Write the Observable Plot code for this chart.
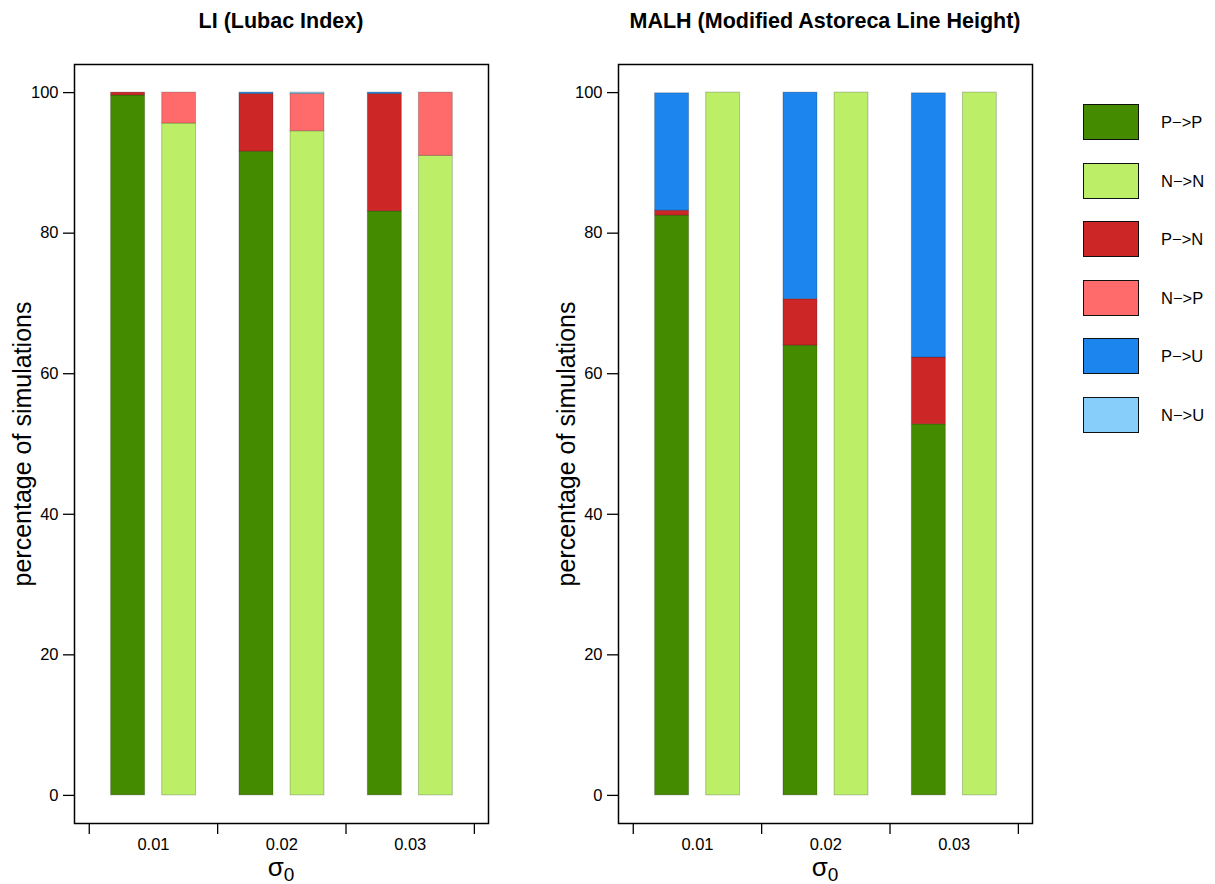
<!DOCTYPE html>
<html><head><meta charset="utf-8">
<script src="https://cdn.jsdelivr.net/npm/d3@7"></script>
<script src="https://cdn.jsdelivr.net/npm/@observablehq/plot@0.6"></script>
<style>
body{margin:0;background:#fff;font-family:"Liberation Sans",Arial,Helvetica,sans-serif}
#fig{position:relative;width:1215px;height:884px;overflow:hidden}
.panel{position:absolute;top:0}
.title{position:absolute;top:9px;font-weight:bold;font-size:21.5px;text-align:center;transform:translateX(-50%);white-space:nowrap;color:#000}
.xlab{position:absolute;top:852px;font-size:26px;transform:translateX(-50%);white-space:nowrap}
.xlab sub{font-size:19px;vertical-align:-5px}
.leg{position:absolute;left:1083px;width:54px;height:34px;border:1.5px solid #111}
.legt{position:absolute;left:1161px;font-size:16.5px;line-height:18px}
</style></head><body><div id="fig"></div>
<script>
// ---- data (percentages) ----
const sigmas   = ["0.01", "0.02", "0.03"];
const outcomes = ["P->P", "N->N", "P->N", "N->P", "P->U", "N->U"];
const labels   = ["P\u2212>P", "N\u2212>N", "P\u2212>N", "N\u2212>P", "P\u2212>U", "N\u2212>U"];
const colors   = ["#458B00", "#BCEE68", "#CD2626", "#FF6A6A", "#1C86EE", "#87CEFA"];
const yTicks   = [0, 20, 40, 60, 80, 100];

// LI (Lubac Index)
const liPP = [99.6, 91.6, 83.1];
const liPN = [0.4, 8.2, 16.7];
const liPU = [0.0, 0.2, 0.2];
const liNN = [95.6, 94.5, 91.0];
const liNP = [4.4, 5.3, 9.0];
const liNU = [0.0, 0.2, 0.0];

// MALH (Modified Astoreca Line Height)
const maPP = [82.5, 64.0, 52.8];
const maPN = [0.7, 6.6, 9.5];
const maPU = [16.7, 29.4, 37.6];
const maNN = [100, 100, 100];
const maNP = [0, 0, 0];
const maNU = [0, 0, 0];

// ---- layout constants ----
const barSlots = {P: [0.17, 0.435], N: [0.568, 0.832]};

function buildRows(PP, PN, PU, NN, NP, NU) {
  const rows = [];
  sigmas.forEach((s, i) => {
    const stacks = [
      ["P", [["P->P", PP[i]], ["P->N", PN[i]], ["P->U", PU[i]]]],
      ["N", [["N->N", NN[i]], ["N->P", NP[i]], ["N->U", NU[i]]]]
    ];
    for (const [bar, segs] of stacks) {
      let base = 0;
      for (const [o, v] of segs) {
        if (v > 0) rows.push({sigma: s, idx: i, bar, outcome: o, y1: base, y2: base + v});
        base += v;
      }
    }
  });
  return rows;
}

function panel(rows) {
  return Plot.plot({
    width: 544, height: 884,
    marginLeft: 74, marginRight: 56, marginTop: 64, marginBottom: 61,
    style: {fontFamily: "'Liberation Sans', Arial, sans-serif", background: "white", color: "black"},
    x: {type: "linear", domain: [-0.115, 3.11], axis: null},
    y: {domain: [-4, 104], axis: null},
    color: {domain: outcomes, range: colors},
    marks: [
      Plot.rect(rows, {
        x1: d => d.idx + barSlots[d.bar][0],
        x2: d => d.idx + barSlots[d.bar][1],
        y1: "y1", y2: "y2",
        fill: "outcome",
        stroke: "black", strokeOpacity: 0.22, strokeWidth: 1
      }),
      Plot.frame({stroke: "black", strokeWidth: 1.5}),
      Plot.axisY({ticks: yTicks, tickSize: 11, tickPadding: 5, fontSize: 16.5, label: null, strokeWidth: 1.3}),
      Plot.axisX({ticks: [0, 1, 2, 3], tickSize: 11, tickFormat: () => "", label: null, strokeWidth: 1.3}),
      Plot.axisX({ticks: [0.5, 1.5, 2.5], tickSize: 0, tickPadding: 15, fontSize: 16.5,
                  tickFormat: d => sigmas[Math.floor(d)], label: null}),
      Plot.text(["percentage of simulations"], {
        frameAnchor: "left", text: d => d, rotate: -90, dx: -52, textAnchor: "middle",
        fontSize: 25, fill: "black"
      })
    ]
  });
}

const fig = document.getElementById("fig");
const panels = [
  {left: 0, title: "LI (Lubac Index)", rows: buildRows(liPP, liPN, liPU, liNN, liNP, liNU)},
  {left: 544, title: "MALH (Modified Astoreca Line Height)", rows: buildRows(maPP, maPN, maPU, maNN, maNP, maNU)}
];
for (const p of panels) {
  const wrap = document.createElement("div");
  wrap.className = "panel";
  wrap.style.left = p.left + "px";
  wrap.appendChild(panel(p.rows));
  fig.appendChild(wrap);
  const t = document.createElement("div");
  t.className = "title";
  t.style.left = (p.left + 281) + "px";
  t.textContent = p.title;
  fig.appendChild(t);
  const xl = document.createElement("div");
  xl.className = "xlab";
  xl.style.left = (p.left + 281) + "px";
  xl.innerHTML = "\u03c3<sub>0</sub>";
  fig.appendChild(xl);
}
// legend
outcomes.forEach((o, i) => {
  const top = 104 + i * 58.5;
  const sw = document.createElement("div");
  sw.className = "leg";
  sw.style.top = top + "px";
  sw.style.background = colors[i];
  fig.appendChild(sw);
  const tx = document.createElement("div");
  tx.className = "legt";
  tx.style.top = (top + 9) + "px";
  tx.textContent = labels[i];
  fig.appendChild(tx);
});
</script></body></html>
